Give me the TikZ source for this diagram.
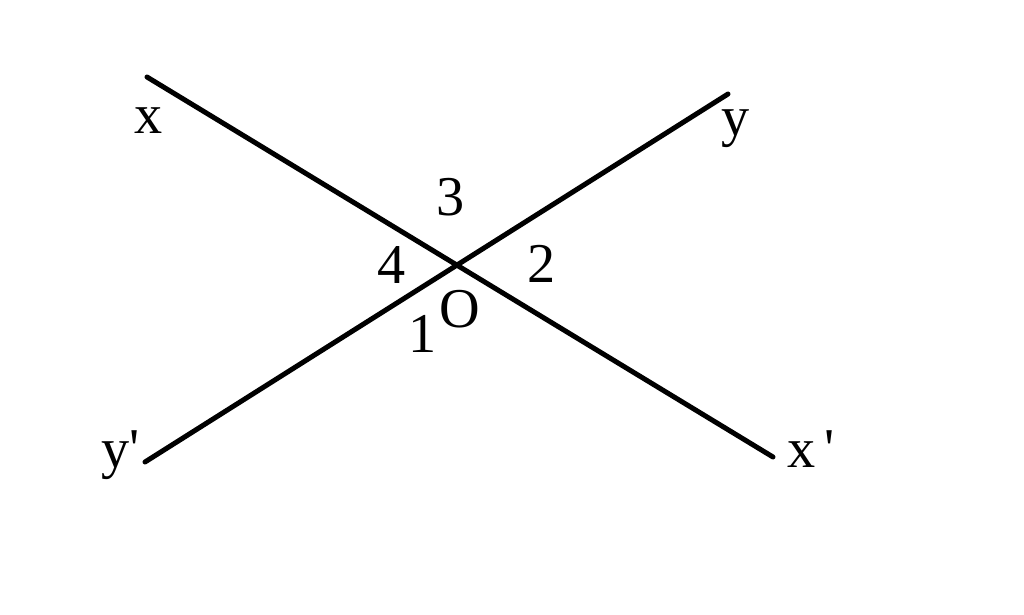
\documentclass[tikz,border=0pt]{standalone}
\usepackage{fontspec}
\setmainfont{Liberation Serif}
\begin{document}
\begin{tikzpicture}
	[
		x=0.02cm, y=-0.02cm,
		ray/.style={line width=0.1cm, line cap=round},
		raylabel/.style={anchor=base west, inner sep=0pt, font=\fontsize{32}{38}\selectfont},
		anglelabel/.style={anchor=base, inner sep=0pt, font=\fontsize{32}{38}\selectfont}
	]
	\useasboundingbox (0, 0) rectangle (1024, 615);

	\coordinate (xend)  at (147, 77);
	\coordinate (xpend) at (773, 457);
	\coordinate (yend)  at (728, 94);
	\coordinate (ypend) at (145, 462);

	\draw [ray] (xend) -- (xpend);
	\draw [ray] (ypend) -- (yend);

	\node (x)  at (134, 133) [raylabel] {x};
	\node (y)  at (721, 135) [raylabel] {y};
	\node (yp) at (101, 467) [raylabel] {y\textquotesingle};
	\node (xp) at (787, 467) [raylabel] {x\,\textquotesingle};

	\node (three) at (451, 215) [anglelabel] {3};
	\node (four)  at (392, 283) [anglelabel] {4};
	\node (two)   at (542, 282) [anglelabel] {2};
	\node (one)   at (423, 352) [anglelabel] {1};
	\node (O)     at (460, 327) [anglelabel] {O};
\end{tikzpicture}
\end{document}
